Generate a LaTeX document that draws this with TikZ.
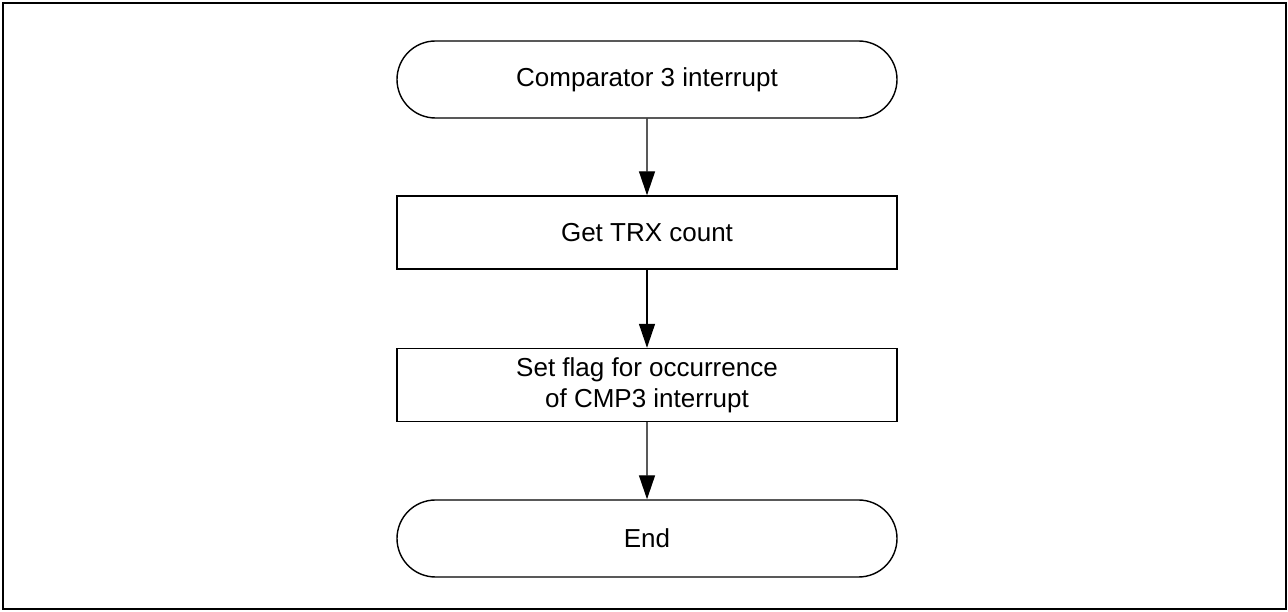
\documentclass[tikz,border=0pt]{standalone}
\usepackage{fontspec}
\setmainfont{Liberation Sans}
\usetikzlibrary{shapes.misc,arrows.meta}
\tikzset{
  terminal/.style={draw, line width=1.4pt, rounded rectangle, minimum width=500pt, minimum height=77pt, inner sep=0pt, font=\fontsize{26}{31}\selectfont},
  procbox/.style={draw, line width=1.4pt, rectangle, minimum width=500pt, minimum height=73pt, inner sep=0pt, align=center, font=\fontsize{26}{31}\selectfont},
  flow/.style={line width=1.4pt, -{Triangle[length=24pt,width=16pt]}},
  frame/.style={draw, line width=2.6pt}
}
\begin{document}
\begin{tikzpicture}[x=1pt,y=1pt]
\useasboundingbox (0,0) rectangle (1288,612);
\draw[frame] (3,3) rectangle (1286,609);
\node[terminal] (start) at (647,532.5) {Comparator 3 interrupt};
\node[procbox] (get) at (647,379.5) {Get TRX count};
\node[procbox] (set) at (647,227) {Set flag for occurrence\\of CMP3 interrupt};
\node[terminal] (end) at (647,73.5) {End};
\draw[flow] (start) -- (get);
\draw[flow] (get) -- (set);
\draw[flow] (set) -- (end);
\end{tikzpicture}
\end{document}
